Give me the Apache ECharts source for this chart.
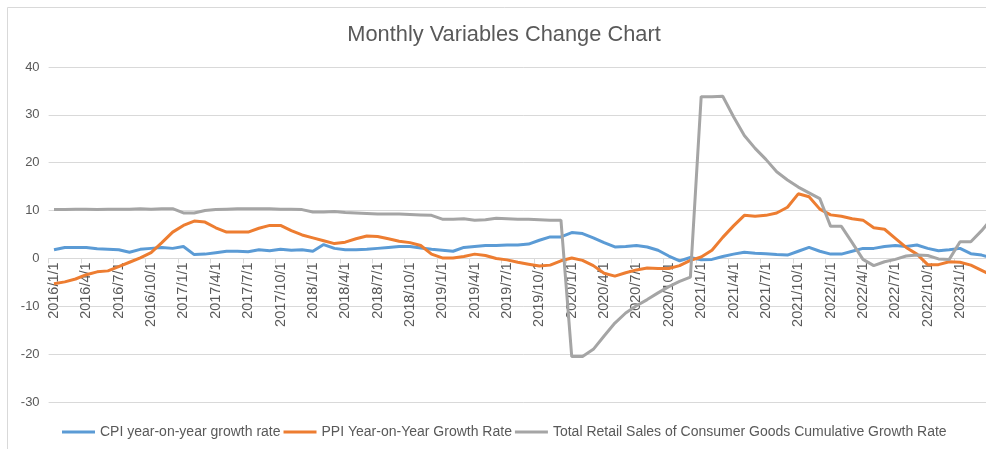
<!DOCTYPE html>
<html>
<head>
<meta charset="utf-8">
<script src="https://cdn.jsdelivr.net/npm/echarts@6/dist/echarts.min.js"></script>
<style>
html,body{margin:0;padding:0;background:#fff;}
#wrap{width:986px;height:449px;overflow:hidden;position:relative;}
#chart{width:1000px;height:449px;}
</style>
</head>
<body>
<div id="wrap"><div id="chart"></div></div>
<script>
// Categories: monthly, 2016/1/1 .. 2023/4/1
const months = [];
for (let y = 2016; y <= 2023; y++) {
  for (let m = 1; m <= 12; m++) {
    if (y === 2023 && m > 4) break;
    months.push(y + '/' + m + '/1');
  }
}

const cpi = [
  1.8, 2.3, 2.3, 2.3, 2.0, 1.9, 1.8, 1.3, 1.9, 2.1, 2.3, 2.1,
  2.5, 0.8, 0.9, 1.2, 1.5, 1.5, 1.4, 1.8, 1.6, 1.9, 1.7, 1.8,
  1.5, 2.9, 2.1, 1.8, 1.8, 1.9, 2.1, 2.3, 2.5, 2.5, 2.2, 1.9,
  1.7, 1.5, 2.3, 2.5, 2.7, 2.7, 2.8, 2.8, 3.0, 3.8, 4.5, 4.5,
  5.4, 5.2, 4.3, 3.3, 2.4, 2.5, 2.7, 2.4, 1.7, 0.5, -0.5, 0.2,
  -0.3, -0.2, 0.4, 0.9, 1.3, 1.1, 1.0, 0.8, 0.7, 1.5, 2.3, 1.5,
  0.9, 0.9, 1.5, 2.1, 2.1, 2.5, 2.7, 2.5, 2.8, 2.1, 1.6, 1.8,
  2.1, 1.0, 0.7, 0.1
];

const ppi = [
  -5.3, -4.9, -4.3, -3.4, -2.8, -2.6, -1.7, -0.8, 0.1, 1.2, 3.3, 5.5,
  6.9, 7.8, 7.6, 6.4, 5.5, 5.5, 5.5, 6.3, 6.9, 6.9, 5.8, 4.9,
  4.3, 3.7, 3.1, 3.4, 4.1, 4.7, 4.6, 4.1, 3.6, 3.3, 2.7, 0.9,
  0.1, 0.1, 0.4, 0.9, 0.6, 0.0, -0.3, -0.8, -1.2, -1.6, -1.4, -0.5,
  0.1, -0.4, -1.5, -3.1, -3.7, -3.0, -2.4, -2.0, -2.1, -2.1, -1.5, -0.4,
  0.3, 1.7, 4.4, 6.8, 9.0, 8.8, 9.0, 9.5, 10.7, 13.5, 12.9, 10.3,
  9.1, 8.8, 8.3, 8.0, 6.4, 6.1, 4.2, 2.3, 0.9, -1.3, -1.3, -0.7,
  -0.8, -1.4, -2.5, -3.6
];

const retail = [
  10.2, 10.2, 10.3, 10.3, 10.2, 10.3, 10.3, 10.3, 10.4, 10.3, 10.4, 10.4,
  9.5, 9.5, 10.0, 10.2, 10.3, 10.4, 10.4, 10.4, 10.4, 10.3, 10.3, 10.2,
  9.7, 9.7, 9.8, 9.6, 9.5, 9.4, 9.3, 9.3, 9.3, 9.2, 9.1, 9.0,
  8.2, 8.2, 8.3, 8.0, 8.1, 8.4, 8.3, 8.2, 8.2, 8.1, 8.0, 8.0,
  -20.5, -20.5, -19.0, -16.2, -13.5, -11.4, -9.9, -8.6, -7.2, -5.9, -4.8, -3.9,
  33.8, 33.8, 33.9, 29.6, 25.7, 23.0, 20.7, 18.1, 16.4, 14.9, 13.7, 12.5,
  6.7, 6.7, 3.3, -0.2, -1.5, -0.7, -0.2, 0.5, 0.7, 0.6, -0.1, -0.2,
  3.5, 3.5, 5.8, 8.5
];

const seriesNames = [
  'CPI year-on-year growth rate',
  'PPI Year-on-Year Growth Rate',
  'Total Retail Sales of Consumer Goods Cumulative Growth Rate'
];
const titleText = 'Monthly Variables Change Chart';

const FONT = '"Liberation Sans", Arial, Helvetica, sans-serif';
const TXT = '#595959';
const GRIDC = '#d9d9d9';

const Y_MIN = -30, Y_MAX = 40;
const GRID_TOP = 67, GRID_H = 335;
// axis sits at value 0: shift the bottom axis up by the distance from 0 to Y_MIN
const zeroShift = GRID_H * (0 - Y_MIN) / (Y_MAX - Y_MIN);

const chart = echarts.init(document.getElementById('chart'), null, {renderer: 'canvas'});
chart.setOption({
  animation: false,
  backgroundColor: '#fff',
  title: {
    text: titleText,
    left: 504,
    top: 24,
    padding: 0,
    textAlign: 'center',
    textStyle: {fontFamily: FONT, fontSize: 21.8, fontWeight: 'normal', color: TXT}
  },
  graphic: [{
    type: 'rect',
    shape: {x: 7.5, y: 7.5, width: 1200, height: 1000},
    style: {fill: 'none', stroke: GRIDC, lineWidth: 1},
    silent: true,
    z: -1
  }],
  legend: {
    left: 57,
    top: 420,
    icon: 'rect',
    itemWidth: 33,
    itemHeight: 3,
    itemGap: 3,
    textStyle: {fontFamily: FONT, fontSize: 14, color: TXT},
    data: seriesNames
  },
  grid: {left: 48.6, top: GRID_TOP, width: 949.2, height: GRID_H, containLabel: false},
  xAxis: {
    type: 'category',
    data: months,
    boundaryGap: true,
    position: 'bottom',
    offset: -zeroShift,
    axisLine: {onZero: false, lineStyle: {color: GRIDC, width: 1}},
    axisTick: {show: true, interval: 2, length: 5, lineStyle: {color: GRIDC}},
    axisLabel: {
      interval: function (idx) { return idx % 3 === 0 && idx < months.length - 1; },
      rotate: 90, margin: 4, fontFamily: FONT, fontSize: 14.5, color: TXT
    },
    splitLine: {show: false}
  },
  yAxis: {
    type: 'value',
    min: Y_MIN, max: Y_MAX, interval: 10,
    axisLine: {show: false},
    axisTick: {show: false},
    axisLabel: {margin: 9, fontFamily: FONT, fontSize: 13, color: TXT},
    splitLine: {lineStyle: {color: GRIDC, width: 1}}
  },
  series: [
    {name: seriesNames[0], type: 'line', data: cpi, showSymbol: false, symbol: 'none',
     lineStyle: {width: 3, color: '#5b9bd5'}, itemStyle: {color: '#5b9bd5'}},
    {name: seriesNames[1], type: 'line', data: ppi, showSymbol: false, symbol: 'none',
     lineStyle: {width: 3, color: '#ed7d31'}, itemStyle: {color: '#ed7d31'}},
    {name: seriesNames[2], type: 'line', data: retail, showSymbol: false, symbol: 'none',
     lineStyle: {width: 3, color: '#a5a5a5'}, itemStyle: {color: '#a5a5a5'}}
  ]
});
</script>
</body>
</html>
